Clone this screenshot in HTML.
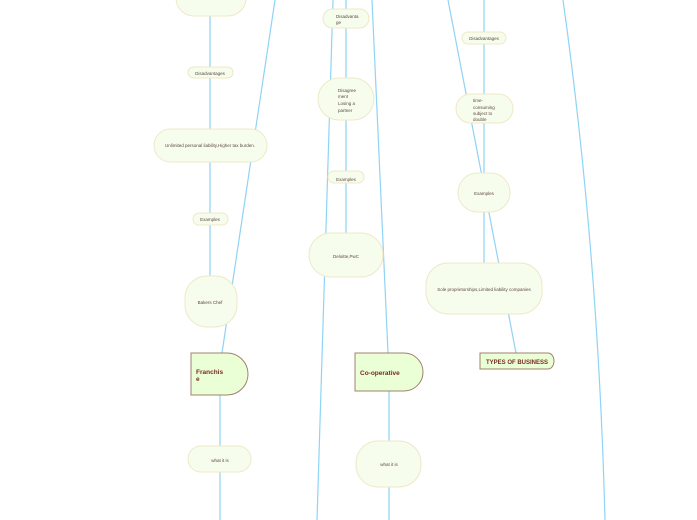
<!DOCTYPE html>
<html><head><style>body{margin:0;background:#fff}svg{display:block}text{font-family:"Liberation Sans",sans-serif;fill:#5a4a42}</style></head><body>
<svg width="697" height="520" viewBox="0 0 697 520" xmlns="http://www.w3.org/2000/svg">
<g stroke="#8fd3f5" stroke-width="1.2" fill="none">
<path d="M210 16V67M210 78V129M210 162V213M210 225V276"/>
<path d="M275 0L222 353"/>
<path d="M220 395V446M220 472V520"/>
<path d="M346 0V9M346 28V78M346 120V171M346 183V233"/>
<path d="M333 0L317 520"/>
<path d="M372 0L388 353"/>
<path d="M389 391V441M389 487V520"/>
<path d="M484 0V32M484 44V94M484 123V173M484 212V263"/>
<path d="M448 0L516 353"/>
<path d="M563 0Q598 250 605 520"/>
</g>
<g fill="#f7fdec" stroke="#efe8c8" stroke-width="1">
<rect x="176" y="-20" width="70" height="36" rx="18"/>
<rect x="188" y="67" width="45" height="11" rx="5.5"/>
<rect x="154" y="129" width="113" height="33" rx="16.5"/>
<rect x="193" y="213" width="35" height="12" rx="6"/>
<rect x="185" y="276" width="52" height="51" rx="22"/>
<rect x="188" y="446" width="63" height="26" rx="13"/>
<rect x="323" y="9" width="46" height="19" rx="9.5"/>
<rect x="318" y="78" width="56" height="42" rx="21"/>
<rect x="328" y="171" width="36" height="12" rx="6"/>
<rect x="309" y="233" width="74" height="44" rx="22"/>
<rect x="356" y="441" width="65" height="46" rx="22"/>
<rect x="462" y="32" width="44" height="12" rx="6"/>
<rect x="456" y="94" width="57" height="29" rx="14.5"/>
<rect x="458" y="173" width="52" height="39" rx="19.5"/>
<rect x="426" y="263" width="116" height="51" rx="22"/>
</g>
<g fill="#eaffd5" stroke="#a08070" stroke-width="1">
<path d="M191 353H227A21 21 0 0 1 227 395H191Z"/>
<path d="M355 353H404A19 19 0 0 1 404 391H355Z"/>
<path d="M480 353H548A6 8 0 0 1 548 369H480Z"/>
</g>
<g font-size="4.5" text-anchor="middle">
<text x="210" y="75">Disadvantages</text>
<text x="210" y="147">Unlimited personal liability,Higher tax burden.</text>
<text x="210" y="221">Examples</text>
<text x="210" y="304">Bakers Chef</text>
<text x="220" y="462">what it is</text>
<text x="346" y="181" >Examples</text>
<text x="346" y="258">Deloitte,PwC</text>
<text x="389" y="466">what it is</text>
<text x="484" y="40">Disadvantages</text>
<text x="484" y="195">Examples</text>
<text x="484" y="291">Sole proprietorships,Limited liability companies</text>
</g>
<g font-size="4.5">
<text x="336" y="18">Disadvanta</text><text x="336" y="24">ge</text>
<text x="338" y="92">Disagree</text><text x="338" y="98">ment</text><text x="338" y="105">Losing a</text><text x="338" y="112">partner</text>
<text x="473" y="102">time-</text><text x="473" y="109">consuming</text><text x="473" y="115">subject to</text><text x="473" y="121">double</text>
</g>
<g font-size="6.5" font-weight="bold" fill="#7a2a22">
<text x="196" y="374" style="fill:#7a2a22">Franchis</text><text x="196" y="381" style="fill:#7a2a22">e</text>
<text x="360" y="375" style="fill:#7a2a22">Co-operative</text>
<text x="486" y="364" font-size="6" style="fill:#7a2a22">TYPES OF BUSINESS</text>
</g>
</svg>
</body></html>
